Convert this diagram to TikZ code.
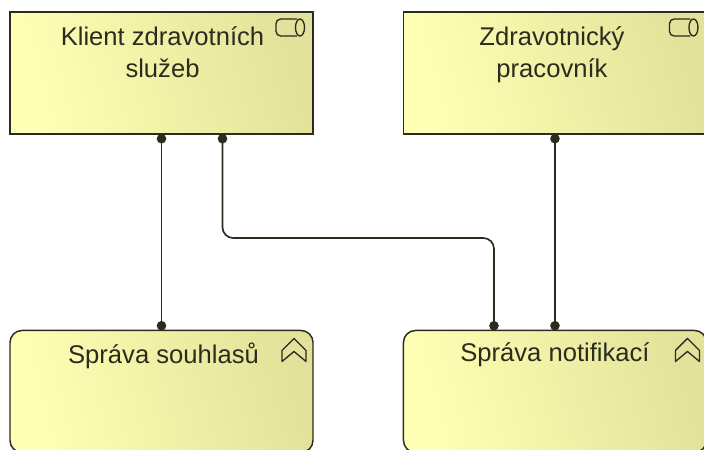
\documentclass[tikz,border=0pt]{standalone}
\usepackage{fontspec}
\setmainfont{Liberation Sans}
\usetikzlibrary{matrix,arrows}
\definecolor{boxlight}{HTML}{FFFFB5}
\definecolor{boxdark}{HTML}{E2E29A}
\definecolor{boxline}{HTML}{2B2B1E}
\tikzset{
  elembox/.style={draw=boxline, line width=1.1pt, left color=boxlight, right color=boxdark, shading angle=105, minimum width=227.25pt, minimum height=91.5pt, inner sep=0pt, outer sep=0pt},
  rolebox/.style={elembox},
  funcbox/.style={elembox, rounded corners=9pt},
  boxtext/.style={anchor=north, align=center, inner sep=0pt, text=boxline, font=\fontsize{19.2}{24}\selectfont},
  elemicon/.style={draw=boxline, line width=1pt},
  conn/.style={draw=boxline, line width=1.25pt, *-*}
}

\begin{document}
\begin{tikzpicture}[x=.75pt, y=-.75pt]
  \path[use as bounding box, clip] (0,0) rectangle (704,450);
  \matrix (m) [matrix of nodes, nodes in empty cells, inner sep=0pt, row sep=146.25pt, column sep=66.75pt, anchor=north west] at (9,11)
  {
	|[rolebox]| & |[rolebox]| \\
	|[funcbox]| & |[funcbox]| \\
  }
;
  \node (klient) [boxtext] at ([shift={(1,14)}]m-1-1.north) {Klient zdravotních\\služeb};
  \node (pracovnik) [boxtext] at ([shift={(-3,14)}]m-1-2.north) {Zdravotnický\\pracovník};
  \node (souhlasy) [boxtext] at ([shift={(2,12)}]m-2-1.north) {Správa souhlasů};
  \node (notifikace) [boxtext] at ([shift={(0,12)}]m-2-2.north) {Správa notifikací};
  \foreach \cell in {m-1-1,m-1-2}
  {
	\draw[elemicon, rounded corners=3.5pt] ([shift={(-16,7)}]\cell.north east) -- ([shift={(-37,7)}]\cell.north east) -- ([shift={(-37,24)}]\cell.north east) -- ([shift={(-16,24)}]\cell.north east);
	\draw[elemicon] ([shift={(-13,15.5)}]\cell.north east) ellipse [x radius=4.5, y radius=8.5];
  }
  \foreach \cell in {m-2-1,m-2-2}
  {
	\draw[elemicon, line join=round] ([shift={(-19,8)}]\cell.north east) -- ([shift={(-7,20)}]\cell.north east) -- ([shift={(-7,31)}]\cell.north east) -- ([shift={(-19,21)}]\cell.north east) -- ([shift={(-31,31)}]\cell.north east) -- ([shift={(-31,20)}]\cell.north east) -- cycle;
  }
  \coordinate (odchod) at ([shift={(61,0)}]m-1-1.south);
  \coordinate (prichod) at ([shift={(-61,0)}]m-2-2.north);
  \coordinate (ohyb) at (prichod |- 0,238);
  \path[conn] (m-1-1.south) -- (m-2-1.north);
  \path[conn, rounded corners=8pt] (odchod) |- (ohyb) -- (prichod);
  \path[conn] (m-1-2.south) -- (m-2-2.north);
\end{tikzpicture}
\end{document}
